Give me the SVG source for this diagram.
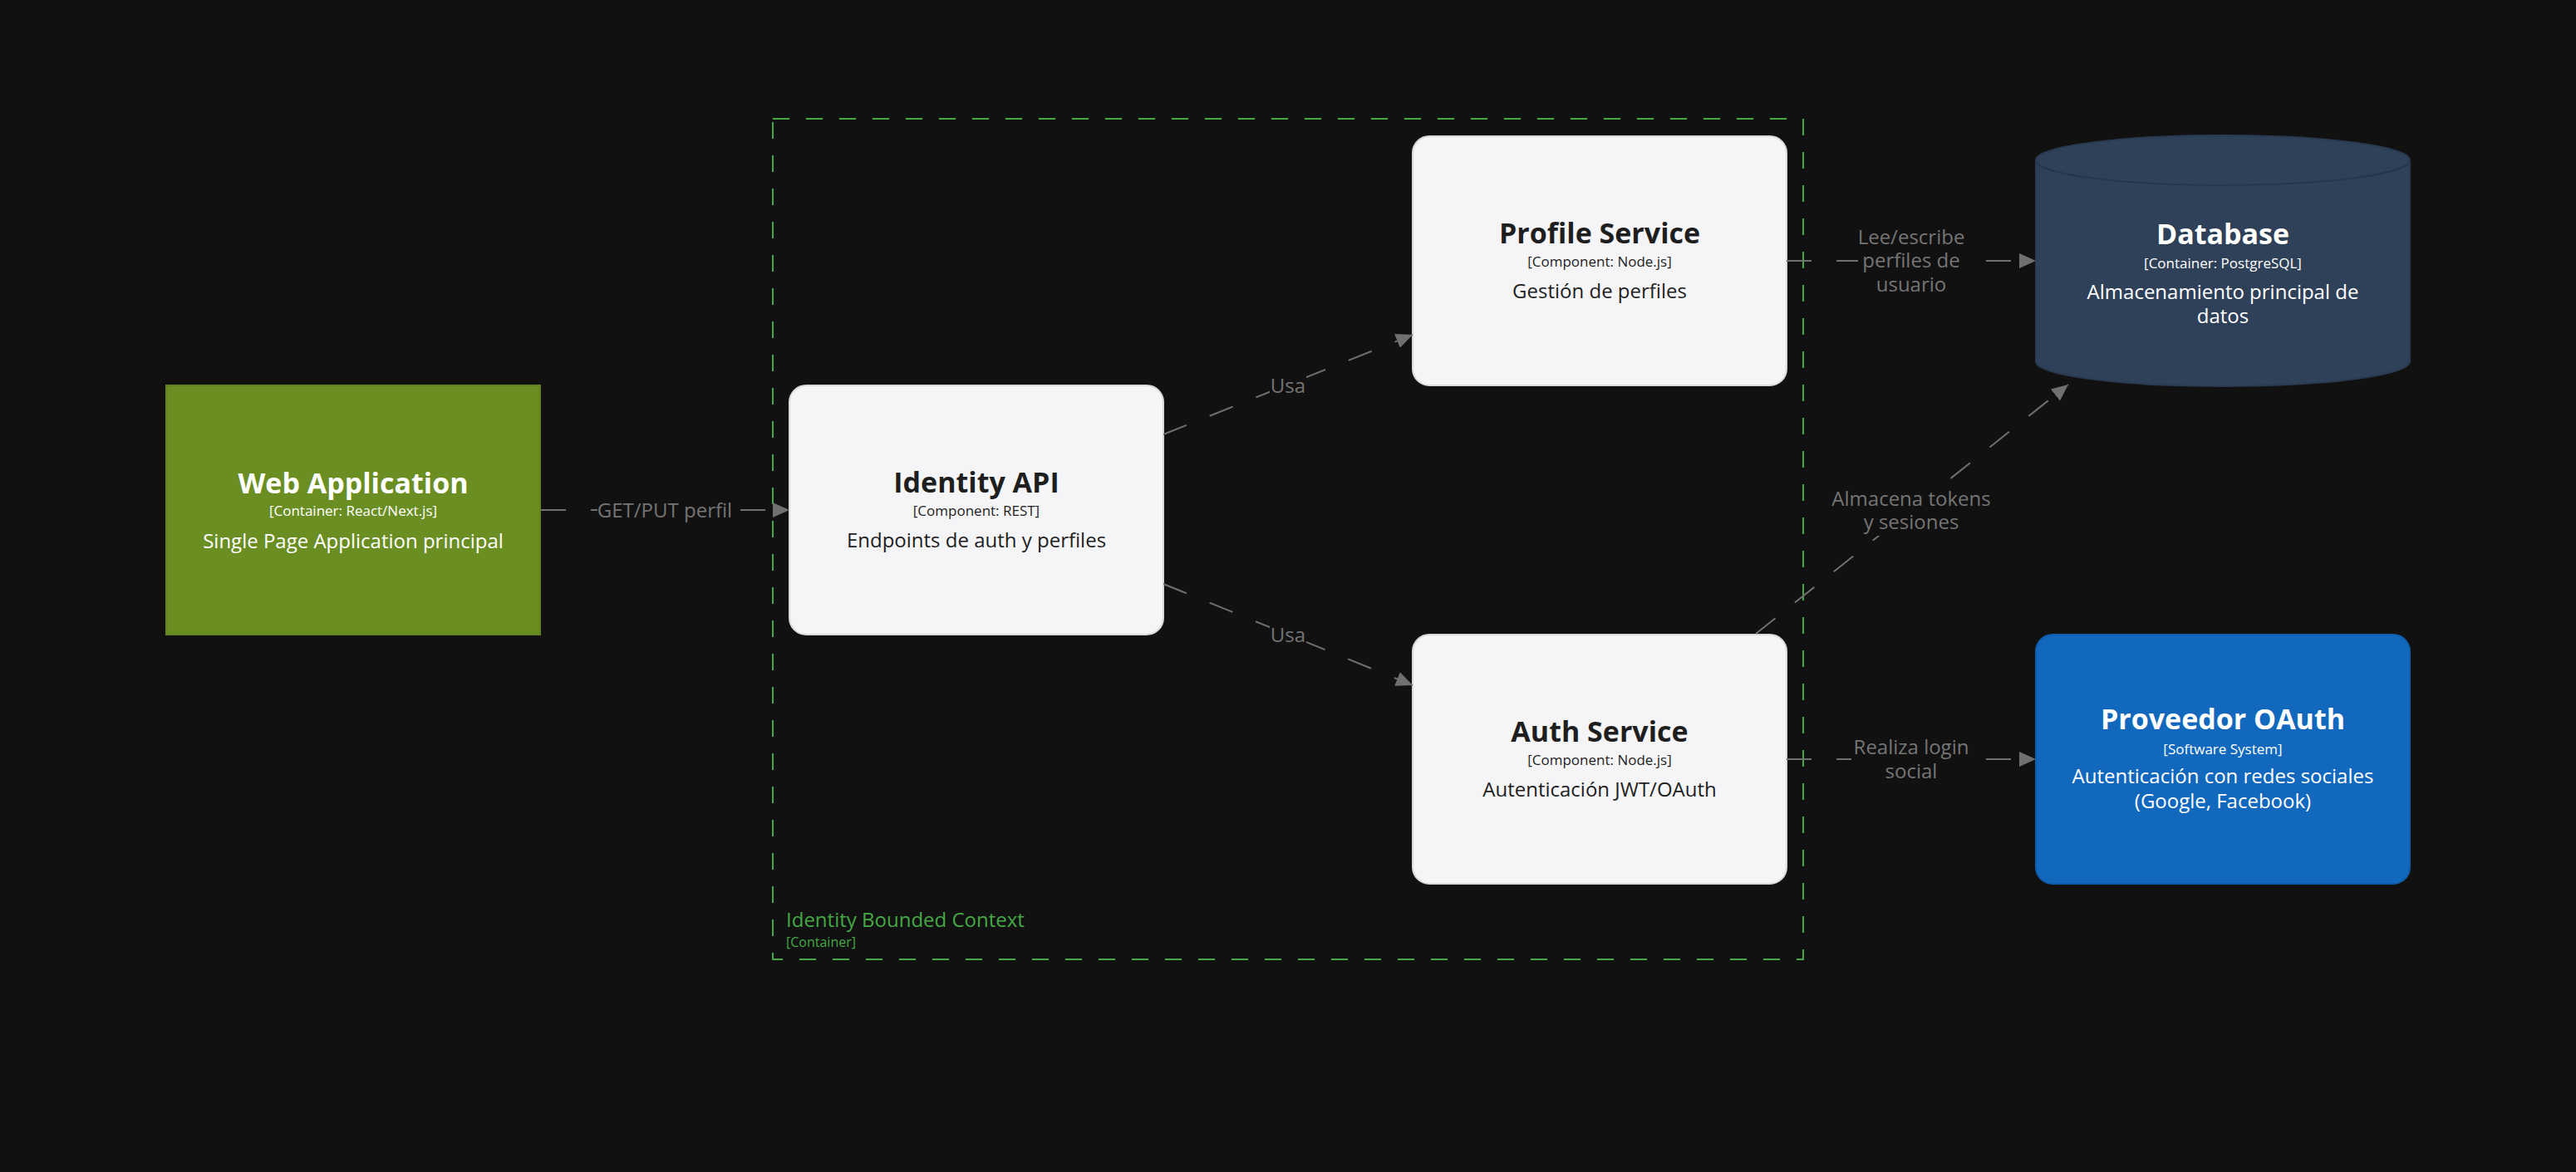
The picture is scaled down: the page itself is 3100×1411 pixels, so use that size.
<svg xmlns="http://www.w3.org/2000/svg" width="3100" height="1411" viewBox="0 0 3100 1411">
<style>
text{font-family:"Open Sans","Noto Sans","Liberation Sans",sans-serif;text-anchor:middle}
.title{font-size:34px;font-weight:700}
.tech{font-size:17px}
.desc{font-size:24px}
.dark{fill:#1e1e1e}
.light{fill:#ffffff}
.comp{fill:#f5f5f7;stroke:#d9d9dc;stroke-width:2}
.edge{fill:none;stroke:#707070;stroke-width:2;stroke-dasharray:30 30}
.elabel{font-size:24px;fill:#757575}
.lbg{fill:#111111}
.bnd{fill:none;stroke:#45a845;stroke-width:2;stroke-dasharray:20 20}
.bndt{fill:#45a845;text-anchor:start}
</style>
<defs>
<marker id="arrow" markerWidth="20" markerHeight="18" refX="20" refY="9" orient="auto" markerUnits="userSpaceOnUse">
<path d="M0,0 L20,9 L0,18 Z" fill="#707070"/>
</marker>
</defs>
<rect x="0" y="0" width="3100" height="1411" fill="#111111"/>

<g id="boundary-identity">
<rect class="bnd" x="930" y="143" width="1240" height="1012"/>
<text class="bndt" x="946" y="1116" font-size="24">Identity Bounded Context</text>
<text class="bndt" x="946" y="1140" font-size="16">[Container]</text>
</g>

<g id="web-application">
<rect x="200" y="464" width="450" height="300" fill="#6b8e23" stroke="#62831f" stroke-width="2"/>
<text class="title light" x="425" y="594">Web Application</text>
<text class="tech light" x="425" y="621">[Container: React/Next.js]</text>
<text class="desc light" x="425" y="660">Single Page Application principal</text>
</g>

<g id="identity-api">
<rect class="comp" x="950" y="464" width="450" height="300" rx="20" ry="20"/>
<text class="title dark" x="1175" y="593">Identity API</text>
<text class="tech dark" x="1175" y="621">[Component: REST]</text>
<text class="desc dark" x="1175" y="659">Endpoints de auth y perfiles</text>
</g>

<g id="profile-service">
<rect class="comp" x="1700" y="164" width="450" height="300" rx="20" ry="20"/>
<text class="title dark" x="1925" y="293">Profile Service</text>
<text class="tech dark" x="1925" y="321">[Component: Node.js]</text>
<text class="desc dark" x="1925" y="359">Gestión de perfiles</text>
</g>

<g id="auth-service">
<rect class="comp" x="1700" y="764" width="450" height="300" rx="20" ry="20"/>
<text class="title dark" x="1925" y="893">Auth Service</text>
<text class="tech dark" x="1925" y="921">[Component: Node.js]</text>
<text class="desc dark" x="1925" y="959">Autenticación JWT/OAuth</text>
</g>

<g id="database">
<path d="M2450,193 A225,30 0 0 1 2900,193 L2900,435 A225,30 0 0 1 2450,435 Z" fill="#2f4159" stroke="#2a3a50" stroke-width="2"/>
<path d="M2450,193 A225,30 0 0 0 2900,193" fill="none" stroke="#26354a" stroke-width="2"/>
<text class="title light" x="2675" y="294">Database</text>
<text class="tech light" x="2675" y="323">[Container: PostgreSQL]</text>
<text class="desc light" x="2675" y="360">Almacenamiento principal de</text>
<text class="desc light" x="2675" y="389">datos</text>
</g>

<g id="proveedor-oauth">
<rect x="2450" y="764" width="450" height="300" rx="20" ry="20" fill="#1168bd" stroke="#0f5eab" stroke-width="2"/>
<text class="title light" x="2675" y="878">Proveedor OAuth</text>
<text class="tech light" x="2675" y="908">[Software System]</text>
<text class="desc light" x="2675" y="943">Autenticación con redes sociales</text>
<text class="desc light" x="2675" y="973">(Google, Facebook)</text>
</g>

<g id="connectors">
<line class="edge" x1="651" y1="614" x2="950" y2="614" marker-end="url(#arrow)"/>
<line class="edge" x1="1400" y1="523" x2="1700" y2="403" marker-end="url(#arrow)"/>
<line class="edge" x1="1400" y1="703" x2="1700" y2="825" marker-end="url(#arrow)"/>
<line class="edge" x1="2150" y1="314" x2="2450" y2="314" marker-end="url(#arrow)"/>
<line class="edge" x1="2113" y1="763" x2="2489" y2="463" marker-end="url(#arrow)"/>
<line class="edge" x1="2150" y1="914" x2="2450" y2="914" marker-end="url(#arrow)"/>

<rect class="lbg" x="719" y="598" width="162" height="32"/>
<text class="elabel" x="800" y="623">GET/PUT perfil</text>

<rect class="lbg" x="1528" y="448" width="44" height="32"/>
<text class="elabel" x="1550" y="473">Usa</text>

<rect class="lbg" x="1528" y="748" width="44" height="32"/>
<text class="elabel" x="1550" y="773">Usa</text>

<rect class="lbg" x="2236" y="270" width="128" height="88"/>
<text class="elabel" x="2300" y="294">Lee/escribe</text>
<text class="elabel" x="2300" y="322">perfiles de</text>
<text class="elabel" x="2300" y="351">usuario</text>

<rect class="lbg" x="2204" y="585" width="192" height="60"/>
<text class="elabel" x="2300" y="609">Almacena tokens</text>
<text class="elabel" x="2300" y="637">y sesiones</text>

<rect class="lbg" x="2228" y="885" width="144" height="60"/>
<text class="elabel" x="2300" y="908">Realiza login</text>
<text class="elabel" x="2300" y="937">social</text>
</g>
</svg>
